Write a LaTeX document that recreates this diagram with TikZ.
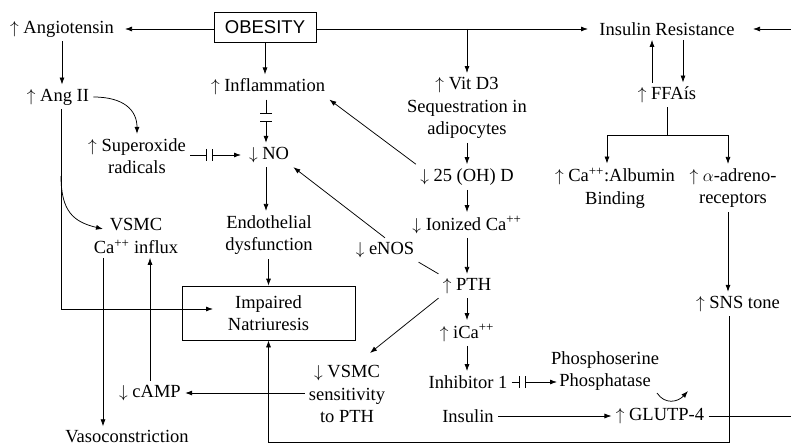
\documentclass[tikz,border=0pt]{standalone}
\usepackage{fontspec}
\setmainfont{Liberation Serif}
\newfontfamily\obfont{Liberation Sans}
\usetikzlibrary{arrows.meta}
\newcommand{\up}{$\uparrow$\ }
\newcommand{\dn}{$\downarrow$\ }
\newcommand{\pp}{\textsuperscript{++}}
\begin{document}
\begin{tikzpicture}[x=1pt,y=-1pt,
  every node/.style={font=\fontsize{18.5}{22.5}\selectfont},
  txt/.style={inner sep=4pt, align=center},
  arr/.style={-{Latex[length=7pt,width=5pt]}},
  blk/.style={-{Bar[width=12pt]}},
  blkarr/.style={{Bar[width=12pt]}-{Latex[length=7pt,width=5pt]}},
  line width=0.75pt]
\useasboundingbox (0,0) rectangle (791,446);

% nodes
\node[draw, minimum width=102pt, minimum height=30pt, inner sep=0pt,
      font=\obfont\fontsize{18.5}{22.5}\selectfont] (obes) at (265,27) {OBESITY};
\node[txt] (ang) at (62,29) {\up Angiotensin};
\node[txt] (ins) at (667,29) {Insulin Resistance};
\node[txt] (infl) at (268,87) {\up Inflammation};
\node[txt] (vitd) at (467,108) {\up Vit D3\\Sequestration in\\adipocytes};
\node[txt] (angII) at (58,97) {\up Ang II};
\node[txt] (sup) at (137,156) {\up Superoxide\\radicals};
\node[txt] (no) at (269,155) {\dn NO};
\node[txt] (endo) at (269,235) {Endothelial\\dysfunction};
\node[txt] (vsmc) at (136,236) {VSMC\\Ca\pp{} influx};
\node[draw, align=center, minimum width=173pt, minimum height=54pt, inner sep=0pt]
      (imp) at (268.5,313) {Impaired\\Natriuresis};
\node[txt] (vaso) at (127,437) {Vasoconstriction};
\node[txt] (camp) at (150,393) {\dn cAMP};
\node[txt] (vsens) at (347,394) {\dn VSMC\\sensitivity\\to PTH};
\node[txt] (enos) at (385,250) {\dn eNOS};
\node[txt] (ohd) at (467,177) {\dn 25 (OH) D};
\node[txt] (ion) at (467,225) {\dn Ionized Ca\pp};
\node[txt] (pth) at (467,286) {\up PTH};
\node[txt] (ica) at (467,333) {\up iCa\pp};
\node[txt] (inh) at (468,382) {Inhibitor 1};
\node[txt] (phos) at (605,371) {Phosphoserine\\Phosphatase};
\node[txt] (insl) at (468,416) {Insulin};
\node[txt] (glut) at (660,416) {\up GLUTP-4};
\node[txt] (ffa) at (667,95) {\up FFAís};
\node[txt] (alb) at (615,188) {\up Ca\pp:Albumin\\Binding};
\node[txt] (alpha) at (733,188) {\up $\alpha$-adreno-\\receptors};
\node[txt] (sns) at (738,304) {\up SNS tone};

% helper coordinates
\coordinate (angT) at (125,29);
\coordinate (insT) at (588,29);
\coordinate (insR) at (753,29);
\coordinate (redge) at (791,416);
\coordinate (rtop) at (791,29);
\coordinate (b1) at (266,114);
\coordinate (b2) at (266,121);
\coordinate (b3) at (207,155);
\coordinate (b4) at (212,155);
\coordinate (noW) at (241,155);
\coordinate (av) at (61,309);
\coordinate (avb) at (61,176);
\coordinate (impin) at (213,309);
\coordinate (vsT) at (103,229);
\coordinate (vx) at (103,0);
\coordinate (vsensT) at (370,353);
\coordinate (b5) at (520,382);
\coordinate (b6) at (525,382);
\coordinate (phT) at (557,382);
\coordinate (cs) at (657,393);
\coordinate (ce) at (688,391);
\coordinate (upx) at (652,0);
\coordinate (dnx) at (683,0);
\coordinate (sp) at (667,135);
\coordinate (xa) at (607,0);
\coordinate (xb) at (728,0);
\coordinate (sb) at (729,442);

% connectors
\draw[arr] (obes.west |- ang.east) -- (angT);
\draw[arr] (obes.east |- ins.west) -- (insT);
\draw[arr] (vitd.north |- ins.west) -- (vitd.north);
\draw[arr] (obes.south) -- (obes.south |- infl.north);
\draw[blk] (b1 |- infl.south) -- (b1);
\draw[blkarr] (b2) -- (b2 |- no.north);
\draw[blk] (sup.east |- b3) -- (b3);
\draw[blkarr] (b4) -- (noW);
\draw[arr] (angII.east) .. controls +(30,0) and +(0,-24) .. (sup.north);
\draw[arr] (ang.south) -- (ang.south |- angII.north);
\draw[arr] (av |- angII.south) -- (av) -- (impin);
\draw[arr] (avb) .. controls (61,212) and (74,222) .. (vsT);
\draw[arr] (no.south -| b1) -- (b1 |- endo.north);
\draw[arr] (endo.south -| imp.north) -- (imp.north);
\draw[arr] (vx |- vsmc.south) -- (vx |- vaso.north);
\draw[arr] (camp.north) -- (camp.north |- vsmc.south);
\draw[arr] (vsens.west |- camp.east) -- (camp.east);
\draw[arr] (pth.south west) -- (vsensT);
\draw (pth.north west) -- (enos.south east);
\draw[arr] (enos.north) -- (no.south east);
\draw[arr] (ohd.north west) -- (infl.south east);
\draw[arr] (vitd.south) -- (ohd.north);
\draw[arr] (ohd.south) -- (ion.north);
\draw[arr] (ion.south) -- (pth.north);
\draw[arr] (pth.south) -- (ica.north);
\draw[arr] (ica.south) -- (inh.north -| ica.south);
\draw[blk] (inh.east) -- (b5);
\draw[blkarr] (b6) -- (phT);
\draw[arr] (cs) .. controls (665,405) and (678,402) .. (ce);
\draw[arr] (insl.east) -- (glut.west);
\draw[arr] (glut.east) -- (redge) -- (rtop) -- (insR);
\draw[arr] (upx |- ffa.north) -- (upx |- ins.south);
\draw[arr] (dnx |- ins.south) -- (dnx |- ffa.north);
\draw (ffa.south) -- (sp);
\draw[arr] (sp) -| (xa |- alb.north);
\draw[arr] (sp) -| (xb |- alpha.north);
\draw[arr] (xb |- alpha.south) -- (xb |- sns.north);
\draw[arr] (sb |- sns.south) -- (sb) -| (imp.south);
\end{tikzpicture}
\end{document}
